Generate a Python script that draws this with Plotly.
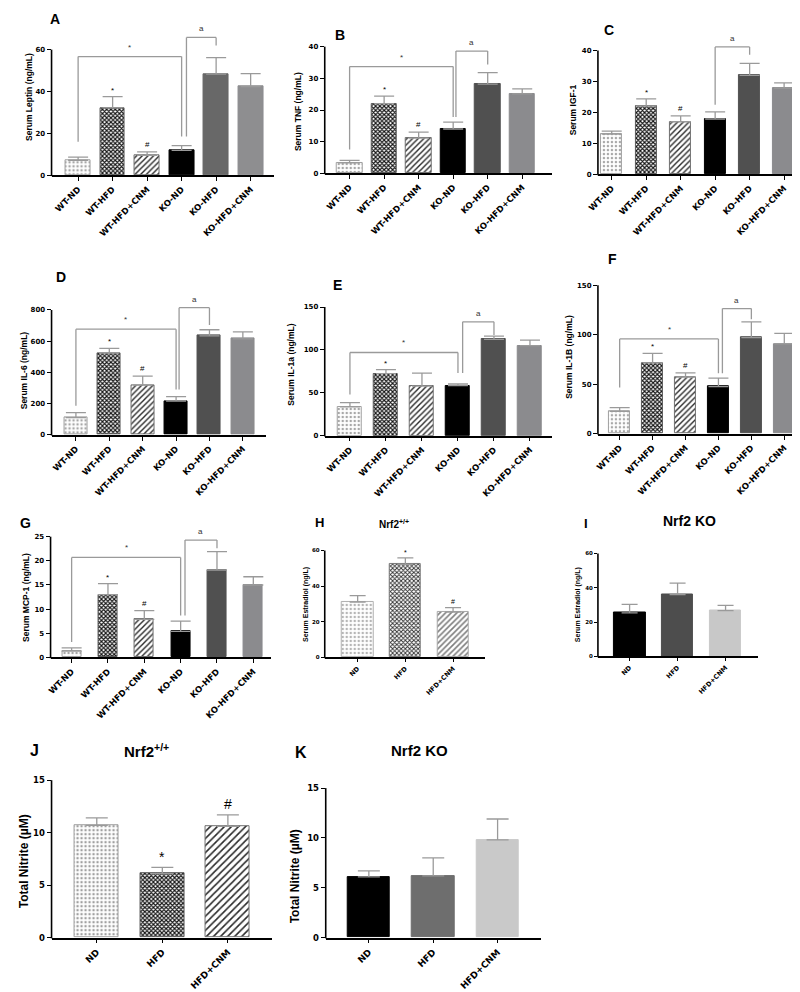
import plotly.graph_objects as go

W, H = 800, 992

# ---------------- data ----------------
groups6 = ["WT-ND", "WT-HFD", "WT-HFD+CNM", "KO-ND", "KO-HFD", "KO-HFD+CNM"]
groups3 = ["ND", "HFD", "HFD+CNM"]

leptin = [7.2, 32.2, 9.5, 11.9, 48.3, 42.3]
leptin_err = [1.5, 5.4, 1.7, 2.3, 7.9, 6.2]
tnf = [3.3, 22.0, 11.1, 14.0, 28.2, 25.1]
tnf_err = [0.8, 2.4, 1.9, 2.2, 3.6, 1.6]
igf1 = [13.0, 22.1, 17.0, 17.9, 32.0, 27.9]
igf1_err = [1.0, 2.3, 1.9, 2.3, 3.9, 1.7]
il6 = [110, 524, 318, 216, 634, 615]
il6_err = [32, 30, 58, 28, 39, 45]
il1a = [33.5, 72.3, 57.7, 58.5, 112.3, 105.0]
il1a_err = [5.0, 4.7, 15.3, 1.9, 3.7, 6.5]
il1b = [22.6, 71.5, 57.2, 47.6, 97.1, 90.8]
il1b_err = [3.7, 9.6, 4.3, 8.6, 15.9, 10.6]
mcp1 = [1.3, 13.0, 7.9, 5.4, 18.1, 15.0]
mcp1_err = [0.7, 2.3, 1.8, 2.1, 3.8, 1.7]
estradiol_wt = [31.1, 52.2, 25.5]
estradiol_wt_err = [3.6, 3.7, 2.5]
estradiol_ko = [25.4, 36.0, 26.7]
estradiol_ko_err = [5.0, 6.7, 3.1]
nitrite_wt = [10.7, 6.1, 10.6]
nitrite_wt_err = [0.7, 0.6, 1.1]
nitrite_ko = [6.1, 6.2, 9.8]
nitrite_ko_err = [0.6, 1.8, 2.1]

sig6 = ["", "*", "#", "", "", ""]
sig6_e = ["", "*", "", "", "", ""]
sig3 = ["", "*", "#"]
sig_none = ["", "", ""]

ticks_leptin = [0, 20, 40, 60]
ticks_tnf = [0, 10, 20, 30, 40]
ticks_igf = [0, 10, 20, 30, 40]
ticks_il6 = [0, 200, 400, 600, 800]
ticks_il1 = [0, 50, 100, 150]
ticks_mcp = [0, 5, 10, 15, 20, 25]
ticks_e2 = [0, 20, 40, 60]
ticks_no = [0, 5, 10, 15]

# ---------------- styles ----------------
ERR = "#9a9a9a"
BRK = "#9a9a9a"
FONT = "Liberation Sans"
DJ = "DejaVu Sans"


def six_style(ko_hfd="#505050", ko_cnm="#8b8b8e"):
    # for patterned bars the marker colour is the pattern (foreground) colour
    return dict(
        color=["#a8a8a8", "#141414", "#2a2a2a", "#000000", ko_hfd, ko_cnm],
        shape=[".", "x", "/", "", "", ""],
        bg=["white", "white", "white", "#000000", ko_hfd, ko_cnm],
        size=[4, 3, 4, 4, 4, 4],
        solid=[0.3, 0.62, 0.35, 0.3, 0.3, 0.3],
        line=["#a0a0a0", "#5a5a5a", "#707070", "#000000", ko_hfd, ko_cnm],
    )


style_h = dict(
    color=["#b5b5b5", "#2e2e2e", "#7e7e7e"],
    shape=[".", "x", "/"],
    bg=["#f3f3f3", "#6a6a6a", "#c6c6c6"],
    size=[4, 3, 4],
    solid=[0.3, 0.5, 0.4],
    line=["#b0b0b0", "#7a7a7a", "#a8a8a8"],
)
style_i = dict(
    color=["#000000", "#4d4d4d", "#c8c8c8"], shape=["", "", ""],
    bg=["#000000", "#4d4d4d", "#c8c8c8"],
    size=[4, 4, 4], solid=[0.3, 0.3, 0.3], line=["#000000", "#4d4d4d", "#c8c8c8"],
)
style_j = dict(
    color=["#a0a0a0", "#141414", "#2a2a2a"], shape=[".", "x", "/"],
    bg=["white", "white", "white"],
    size=[4, 3, 5], solid=[0.3, 0.62, 0.32], line=["#a0a0a0", "#5a5a5a", "#707070"],
)
style_k = dict(
    color=["#000000", "#6e6e6e", "#c9c9c9"], shape=["", "", ""],
    bg=["#000000", "#6e6e6e", "#c9c9c9"],
    size=[4, 4, 4], solid=[0.3, 0.3, 0.3], line=["#000000", "#6e6e6e", "#c9c9c9"],
)

kinds = {
    "six": dict(xt=8.5, yt=7, ytl=8.5, sig=8, brk=8, capw=10, let=14, tl=4),
    "small3": dict(xt=6.5, yt=5.5, ytl=7, sig=7, brk=7, capw=8, let=13, tl=3),
    "big3": dict(xt=9, yt=8.5, ytl=12, sig=14, brk=10, capw=11, let=16, tl=4),
}

# box = (x_left_px, x_right_px, y_of_zero_px, y_of_top_tick_px)
panels = [
    dict(letter="A", kind="six", cats=groups6, vals=leptin, errs=leptin_err, sig=sig6,
         ytitle="Serum Leptin (ng/mL)", ticks=ticks_leptin, rtop=74,
         box=(33, 259, 164, 37), xr=(-0.77, 5.69), barw=0.72,
         style=six_style("#686868", "#8e8e90"), letter_xy=(37, 6), ytitle_xy=(10, 85),
         brackets=[("*", 0, 3, 56.7, 16, 18.5), ("a", 3.14, 4, 65.8, 18.5, 62)]),
    dict(letter="B", kind="six", cats=groups6, vals=tnf, errs=tnf_err, sig=sig6,
         ytitle="Serum TNF (ng/mL)", ticks=ticks_tnf, rtop=44,
         box=(310, 540, 162, 34), xr=(-0.72, 5.85), barw=0.74,
         style=six_style(), letter_xy=(325, 22), ytitle_xy=(283, 100),
         brackets=[("*", 0, 3, 33.7, 7.5, 17.8), ("a", 3.08, 4, 38.6, 17.8, 34.4)]),
    dict(letter="C", kind="six", cats=groups6, vals=igf1, errs=igf1_err, sig=sig6,
         ytitle="Serum IGF-1", ticks=ticks_igf, rtop=46,
         box=(587, 795, 163, 38), xr=(-0.4, 5.55), barw=0.62,
         style=six_style(), letter_xy=(598, 17), ytitle_xy=(562, 98),
         brackets=[("a", 3, 4, 41.2, 22.5, 38.7)]),
    dict(letter="D", kind="six", cats=groups6, vals=il6, errs=il6_err, sig=sig6,
         ytitle="Serum IL-6 (ng/mL)", ticks=ticks_il6, rtop=900,
         box=(33, 250, 426, 300), xr=(-0.73, 5.68), barw=0.69,
         style=six_style(), letter_xy=(43, 267), ytitle_xy=(5, 361),
         brackets=[("*", 0, 3, 677, 185, 290), ("a", 3.09, 4, 815, 290, 704)]),
    dict(letter="E", kind="six", cats=groups6, vals=il1a, errs=il1a_err, sig=sig6_e,
         ytitle="Serum IL-1a (ng/mL)", ticks=ticks_il1, rtop=150,
         box=(310, 540, 427, 297), xr=(-0.7, 5.6), barw=0.67,
         style=six_style(), letter_xy=(323, 275), ytitle_xy=(276, 355),
         brackets=[("*", 0, 3, 97, 48, 73), ("a", 3.13, 4, 132.7, 73, 117.3)]),
    dict(letter="F", kind="six", cats=groups6, vals=il1b, errs=il1b_err, sig=sig6,
         ytitle="Serum IL-1B (ng/mL)", ticks=ticks_il1, rtop=150,
         box=(587, 797, 425, 275), xr=(-0.66, 5.63), barw=0.65,
         style=six_style(), letter_xy=(602, 249), ytitle_xy=(557, 347),
         brackets=[("*", 0, 3, 95.8, 46.6, 61), ("a", 3.12, 4, 126.4, 61, 115.7)]),
    dict(letter="G", kind="six", cats=groups6, vals=mcp1, errs=mcp1_err, sig=sig6,
         ytitle="Serum MCP-1 (ng/mL)", ticks=ticks_mcp, rtop=27,
         box=(32, 256, 651, 529), xr=(-0.58, 5.5), barw=0.52,
         style=six_style(), letter_xy=(7, 515), ytitle_xy=(7, 590),
         brackets=[("*", 0, 3, 20.7, 3.2, 8.7), ("a", 3.12, 4, 24.3, 8.7, 22.6)]),
    dict(letter="H", kind="small3", cats=groups3, vals=estradiol_wt, errs=estradiol_wt_err, sig=sig3,
         ytitle="Serum Estradiol (ng/L)", ticks=ticks_e2, rtop=62,
         box=(310, 473, 651, 543), xr=(-0.69, 2.68), barw=0.66,
         style=style_h, letter_xy=(305, 515), ytitle_xy=(291, 597),
         title="Nrf2<sup>+/+</sup>", title_xy=(380, 516), title_size=10, brackets=[]),
    dict(letter="I", kind="small3", cats=groups3, vals=estradiol_ko, errs=estradiol_ko_err, sig=sig_none,
         ytitle="Serum Estradiol (ng/L)", ticks=ticks_e2, rtop=60,
         box=(587, 749, 650, 546), xr=(-0.66, 2.67), barw=0.66,
         style=style_i, letter_xy=(575, 516), ytitle_xy=(567, 598),
         title="Nrf2 KO", title_xy=(680, 513), title_size=14, brackets=[]),
    dict(letter="J", kind="big3", cats=groups3, vals=nitrite_wt, errs=nitrite_wt_err, sig=sig3,
         ytitle="Total Nitrite (µM)", ticks=ticks_no, rtop=15,
         box=(33, 257, 934, 775), xr=(-0.69, 2.68), barw=0.67,
         style=style_j, letter_xy=(16, 745), ytitle_xy=(5, 857),
         title="Nrf2<sup>+/+</sup>", title_xy=(129, 745), title_size=15, brackets=[]),
    dict(letter="K", kind="big3", cats=groups3, vals=nitrite_ko, errs=nitrite_ko_err, sig=sig_none,
         ytitle="Total Nitrite (µM)", ticks=ticks_no, rtop=15,
         box=(311, 529, 934, 783), xr=(-0.67, 2.67), barw=0.66,
         style=style_k, letter_xy=(286, 747), ytitle_xy=(280, 872),
         title="Nrf2 KO", title_xy=(406, 745), title_size=15, brackets=[]),
]


def px_x(px):
    return px / W


def px_y(py):
    return 1 - py / H


fig = go.Figure()
shapes = []
annotations = []
layout_axes = {}

for i, p in enumerate(panels):
    n = i + 1
    xa = "x" if n == 1 else f"x{n}"
    ya = "y" if n == 1 else f"y{n}"
    xk = "xaxis" if n == 1 else f"xaxis{n}"
    yk = "yaxis" if n == 1 else f"yaxis{n}"
    k = kinds[p["kind"]]
    st = p["style"]

    xl, xrp, y0, yT = p["box"]
    top_tick = p["ticks"][-1]
    ppu = (y0 - yT) / top_tick
    top_px = y0 - p["rtop"] * ppu

    fig.add_trace(go.Bar(
        x=p["cats"], y=p["vals"], xaxis=xa, yaxis=ya, width=p["barw"],
        marker=dict(
            color=st["color"],
            line=dict(color=st["line"], width=1),
            pattern=dict(shape=st["shape"], bgcolor=st["bg"],
                         size=st["size"], solidity=st["solid"], fillmode="replace"),
        ),
        error_y=dict(type="data", array=p["errs"], arrayminus=[0] * len(p["errs"]),
                     symmetric=False, color=ERR, thickness=1.3, width=k["capw"]),
        showlegend=False, hoverinfo="skip",
    ))

    layout_axes[xk] = dict(
        domain=[px_x(xl), px_x(xrp)], anchor=ya, type="category",
        categoryarray=p["cats"], range=list(p["xr"]),
        showline=True, linecolor="black", linewidth=1.6,
        ticks="outside", ticklen=k["tl"], tickwidth=1.2, tickcolor="black",
        tickangle=-45, tickfont=dict(family=DJ, size=k["xt"], color="black", weight="bold"),
        showgrid=False, zeroline=False, fixedrange=True,
    )
    layout_axes[yk] = dict(
        domain=[px_y(y0), px_y(top_px)], anchor=xa, range=[0, p["rtop"]],
        tickvals=p["ticks"], ticktext=[str(t) for t in p["ticks"]],
        showline=False, ticks="outside", ticklen=k["tl"], tickwidth=1.2, tickcolor="black",
        tickfont=dict(family=DJ, size=k["yt"], color="black", weight="bold"),
        showgrid=False, zeroline=False, fixedrange=True,
    )
    # y axis line, only up to the top tick
    shapes.append(dict(type="line", xref="paper", yref="paper",
                       x0=px_x(xl), x1=px_x(xl), y0=px_y(y0) - 0.0008, y1=px_y(yT),
                       line=dict(color="black", width=1.6)))

    # significance marks above bars
    for c, v, e, s in zip(p["cats"], p["vals"], p["errs"], p["sig"]):
        if s:
            annotations.append(dict(
                x=c, y=v + e, xref=xa, yref=ya, text=s, showarrow=False,
                yanchor="bottom", yshift=0 if s == "*" else 1,
                font=dict(family=FONT, size=k["sig"], color="black")))

    # comparison brackets
    for lab, bx0, bx1, lvl, lend, rend in p["brackets"]:
        for (ax0, ay0, ax1, ay1) in [(bx0, lend, bx0, lvl), (bx0, lvl, bx1, lvl), (bx1, lvl, bx1, rend)]:
            shapes.append(dict(type="line", xref=xa, yref=ya, x0=ax0, y0=ay0, x1=ax1, y1=ay1,
                               line=dict(color=BRK, width=1.3)))
        annotations.append(dict(
            x=(bx0 + bx1) / 2, y=lvl, xref=xa, yref=ya, text=lab, showarrow=False,
            yanchor="bottom", yshift=2 if lab == "a" else 3,
            font=dict(family=FONT, size=k["brk"], color="#333333")))

    # panel letter
    lx, ly = p["letter_xy"]
    annotations.append(dict(x=px_x(lx), y=px_y(ly), xref="paper", yref="paper",
                            text=f"<b>{p['letter']}</b>", showarrow=False,
                            xanchor="center", yanchor="middle",
                            font=dict(family=FONT, size=k["let"], color="black")))
    # y title
    tx, ty = p["ytitle_xy"]
    annotations.append(dict(x=px_x(tx), y=px_y(ty), xref="paper", yref="paper",
                            text=f"<b>{p['ytitle']}</b>", showarrow=False, textangle=-90,
                            xanchor="center", yanchor="middle",
                            font=dict(family=FONT, size=k["ytl"], color="black")))
    # panel title
    if p.get("title"):
        tx, ty = p["title_xy"]
        annotations.append(dict(x=px_x(tx), y=px_y(ty), xref="paper", yref="paper",
                                text=f"<b>{p['title']}</b>", showarrow=False,
                                xanchor="center", yanchor="middle",
                                font=dict(family=FONT, size=p["title_size"], color="black")))

fig.update_layout(
    width=W, height=H, autosize=False,
    margin=dict(l=0, r=0, t=0, b=0),
    paper_bgcolor="white", plot_bgcolor="white",
    barmode="overlay", bargap=0,
    shapes=shapes, annotations=annotations,
    **layout_axes,
)

fig.write_html("out.html")
